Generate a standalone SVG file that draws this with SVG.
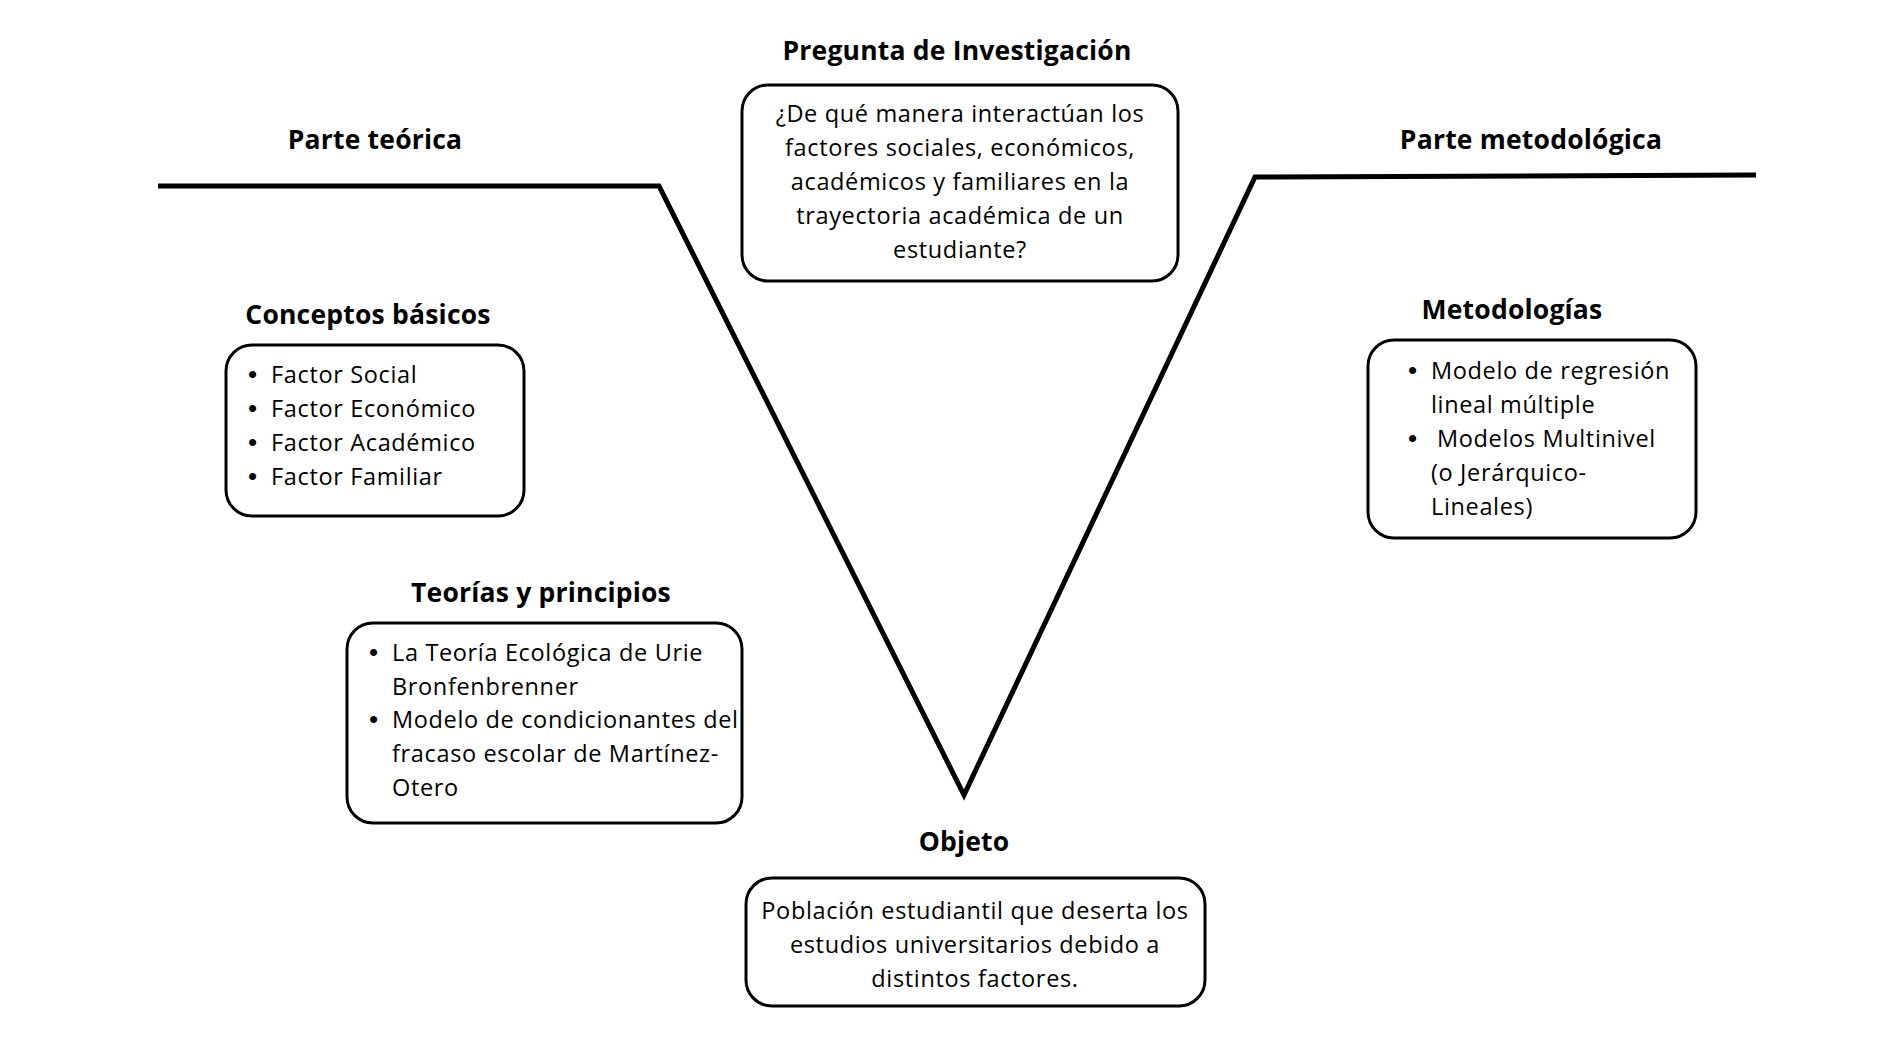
<svg xmlns="http://www.w3.org/2000/svg" width="1904" height="1040" viewBox="0 0 1904 1040">
<style>
.h{font-family:"Open Sans","Liberation Sans",sans-serif;font-weight:700;font-size:26.5px;fill:#000;text-anchor:middle;letter-spacing:0.2px}
.t{font-family:"Open Sans","Liberation Sans",sans-serif;font-size:23.5px;fill:#000;letter-spacing:0.65px}
.b{font-family:"Liberation Sans",sans-serif;font-size:26px;fill:#000}
.c{text-anchor:middle}
.box{fill:#fff;stroke:#000;stroke-width:3}
.v{fill:none;stroke:#000;stroke-width:5;stroke-linejoin:miter}
</style>
<rect width="1904" height="1040" fill="#fff"/>
<g id="connectors">
<polyline class="v" points="158,186 659,186 964,795 1255,177 1756,175"/>
</g>
<g id="parte-teorica"><text class="h" x="375" y="149">Parte teórica</text></g>
<g id="parte-metodologica"><text class="h" x="1531" y="149">Parte metodológica</text></g>
<g id="pregunta">
<text class="h" x="957" y="60">Pregunta de Investigación</text>
<rect class="box" x="742" y="85" width="436" height="196" rx="26"/>
<text class="t c" x="960" y="122">¿De qué manera interactúan los</text>
<text class="t c" x="960" y="156">factores sociales, económicos,</text>
<text class="t c" x="960" y="190">académicos y familiares en la</text>
<text class="t c" x="960" y="224">trayectoria académica de un</text>
<text class="t c" x="960" y="258">estudiante?</text>
</g>
<g id="conceptos">
<text class="h" x="368" y="324">Conceptos básicos</text>
<rect class="box" x="226" y="345" width="298" height="171" rx="26"/>
<text class="b" x="248" y="383">•</text><text class="t" x="271" y="383">Factor Social</text>
<text class="b" x="248" y="417">•</text><text class="t" x="271" y="417">Factor Económico</text>
<text class="b" x="248" y="451">•</text><text class="t" x="271" y="451">Factor Académico</text>
<text class="b" x="248" y="485">•</text><text class="t" x="271" y="485">Factor Familiar</text>
</g>
<g id="metodologias">
<text class="h" x="1512" y="319">Metodologías</text>
<rect class="box" x="1368" y="340" width="328" height="198" rx="26"/>
<text class="b" x="1408" y="379">•</text><text class="t" x="1431" y="379">Modelo de regresión</text>
<text class="t" x="1431" y="413">lineal múltiple</text>
<text class="b" x="1408" y="447">•</text><text class="t" x="1437" y="447">Modelos Multinivel</text>
<text class="t" x="1431" y="481">(o Jerárquico-</text>
<text class="t" x="1431" y="515">Lineales)</text>
</g>
<g id="teorias">
<text class="h" x="541" y="602">Teorías y principios</text>
<rect class="box" x="347" y="623" width="395" height="200" rx="26"/>
<text class="b" x="369" y="661">•</text><text class="t" x="392" y="661">La Teoría Ecológica de Urie</text>
<text class="t" x="392" y="695">Bronfenbrenner</text>
<text class="b" x="369" y="728">•</text><text class="t" x="392" y="728">Modelo de condicionantes del</text>
<text class="t" x="392" y="762">fracaso escolar de Martínez-</text>
<text class="t" x="392" y="796">Otero</text>
</g>
<g id="objeto">
<text class="h" x="964" y="851">Objeto</text>
<rect class="box" x="746" y="878" width="459" height="128" rx="26"/>
<text class="t c" x="975" y="919">Población estudiantil que deserta los</text>
<text class="t c" x="975" y="953">estudios universitarios debido a</text>
<text class="t c" x="975" y="987">distintos factores.</text>
</g>
</svg>
